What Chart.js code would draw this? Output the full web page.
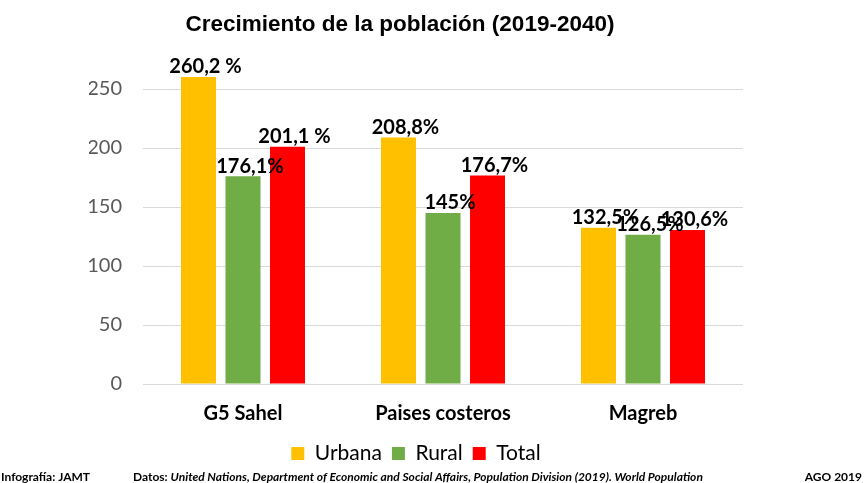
<!DOCTYPE html>
<html>
<head>
<meta charset="utf-8">
<script src="https://cdn.jsdelivr.net/npm/chart.js@4/dist/chart.umd.min.js"></script>
<style>
  body { margin: 0; background: #fff; }
  #wrap { width: 864px; height: 483px; }
</style>
</head>
<body>
<div id="wrap"><canvas id="myChart"></canvas></div>
<script>
// regions and series (crecimiento %)
let regiones = ["G5 Sahel", "Paises costeros", "Magreb"];
let urbana = [260.2, 208.8, 132.5];
let rural = [176.1, 145, 126.5];
let total = [201.1, 176.7, 130.6];
// labels as written on the picture
let etqUrbana = ["260,2 %", "208,8%", "132,5%"];
let etqRural = ["176,1%", "145%", "126,5%"];
let etqTotal = ["201,1 %", "176,7%", "130,6%"];
let yTicks = [0, 50, 100, 150, 200, 250];

let font = "Lato, 'Open Sans', sans-serif";

// draws value labels, title and footer
let extras = {
  id: "extras",
  afterDatasetsDraw(chart) {
    let ctx = chart.ctx;
    let etq = [etqUrbana, etqRural, etqTotal];
    ctx.save();
    ctx.fillStyle = "#000";
    ctx.font = "bold 20px " + font;
    ctx.textAlign = "center";
    ctx.textBaseline = "bottom";
    chart.data.datasets.forEach(function (ds, i) {
      let meta = chart.getDatasetMeta(i);
      meta.data.forEach(function (bar, j) {
        ctx.fillText(etq[i][j], bar.x + 7, bar.y);
      });
    });
    ctx.restore();
  },
  afterDraw(chart) {
    let ctx = chart.ctx;
    ctx.save();
    ctx.fillStyle = "#000";
    ctx.textBaseline = "middle";
    ctx.textAlign = "center";
    ctx.font = "bold 22.5px 'Liberation Sans', Arial, sans-serif";
    ctx.fillText("Crecimiento de la población (2019-2040)", 400, 25);

    ctx.font = "bold 12px " + font;
    ctx.textAlign = "left";
    ctx.fillText("Infografía: JAMT", 1, 477, 112);
    ctx.fillText("Datos:", 133, 477);
    let w = ctx.measureText("Datos: ").width;
    ctx.font = "italic bold 12px " + font;
    ctx.fillText("United Nations, Department of Economic and Social Affairs, Population Division (2019). World Population", 133 + w, 477, 748 - 133 - w);
    ctx.font = "bold 12px " + font;
    ctx.textAlign = "right";
    ctx.fillText("AGO 2019", 862, 477);
    ctx.restore();
  }
};

new Chart("myChart", {
  type: "bar",
  data: {
    labels: regiones,
    datasets: [
      { label: "Urbana", data: urbana, backgroundColor: "#FFC000" },
      { label: "Rural", data: rural, backgroundColor: "#70AD47" },
      { label: "Total", data: total, backgroundColor: "#FF0000" }
    ]
  },
  options: {
    responsive: true,
    maintainAspectRatio: false,
    animation: false,
    categoryPercentage: 0.6675,
    barPercentage: 0.787,
    layout: { padding: { left: 89, right: 121, top: 89, bottom: 9 } },
    plugins: {
      legend: {
        position: "bottom",
        labels: {
          boxWidth: 13,
          boxHeight: 13,
          padding: 10,
          color: "#000",
          font: { family: font, size: 21 }
        }
      },
      tooltip: { enabled: false }
    },
    scales: {
      x: {
        grid: { display: false },
        border: { display: false },
        ticks: { color: "#000", font: { family: font, size: 20, weight: "bold" }, padding: 10 },
        afterFit(s) { s.height = 49; }
      },
      y: {
        min: 0,
        max: 250,
        afterBuildTicks(s) { s.ticks = yTicks.map(v => ({ value: v })); },
        grid: { color: "#D9D9D9", drawTicks: false },
        border: { display: false },
        ticks: { color: "#595959", font: { family: font, size: 20 }, padding: 21 },
        afterFit(s) { s.width = 54; }
      }
    },
    datasets: { bar: { clip: false } }
  },
  plugins: [extras]
});
</script>
</body>
</html>
